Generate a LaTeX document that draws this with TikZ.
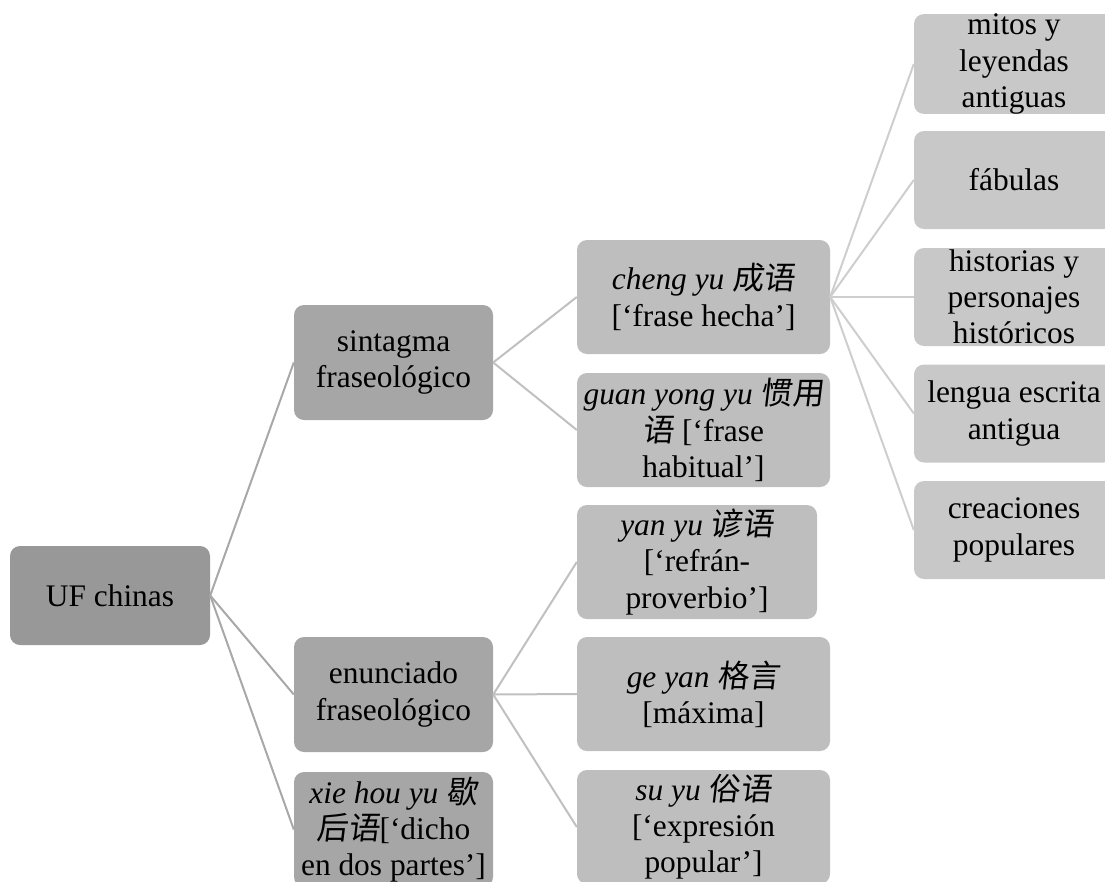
\documentclass[tikz,border=0pt]{standalone}
\usepackage{fontspec}
\setmainfont{Liberation Serif}
\newfontfamily\cjk[FakeSlant=0.12]{Noto Sans CJK SC}
\definecolor{fillroot}{RGB}{152,152,152}
\definecolor{fillone}{RGB}{166,166,166}
\definecolor{filltwo}{RGB}{190,190,190}
\definecolor{fillthree}{RGB}{200,200,200}
\definecolor{linkone}{RGB}{168,168,168}
\definecolor{linktwo}{RGB}{192,192,192}
\definecolor{linkthree}{RGB}{206,206,206}
\tikzset{
  box/.style={rounded corners=10pt, inner sep=0pt, align=center,
    font=\fontsize{31.4}{36.2}\selectfont, text=black},
  rootbox/.style={box, fill=fillroot, minimum width=200pt, minimum height=99pt},
  onebox/.style={box, fill=fillone, minimum width=199pt, minimum height=115pt},
  twobox/.style={box, fill=filltwo, minimum width=253pt, minimum height=114pt},
  threebox/.style={box, fill=fillthree, minimum width=200pt, minimum height=98pt},
  linkA/.style={draw=linkone, line width=2pt},
  linkB/.style={draw=linktwo, line width=2pt},
  linkC/.style={draw=linkthree, line width=2pt},
}
\begin{document}
\begin{tikzpicture}[x=1pt, y=-1pt]
\useasboundingbox (0,0) rectangle (1105,881);
\clip (0,0) rectangle (1105,881);

% root
\node[rootbox] (uf) at (110,595.5) {UF chinas};

% first level
\node[onebox] (sint) at (393.5,362.5) {sintagma\\fraseológico};
\node[onebox] (enun) at (393.5,694.5) {enunciado\\fraseológico};
\node[onebox] (xie)  at (393.5,829.5) {\textit{xie hou yu} {\cjk 歇}\\{\cjk 后语}{[}‘dicho\\en dos partes’{]}};

% second level
\node[twobox] (cheng) at (703.5,297) {\textit{cheng yu} {\cjk 成语}\\{[}‘frase hecha’{]}};
\node[twobox] (guan)  at (703.5,430) {\textit{guan yong yu} {\cjk 惯用}\\{\cjk 语} {[}‘frase\\habitual’{]}};
\node[twobox, minimum width=240pt] (yan) at (697,562) {\textit{yan yu} {\cjk 谚语}\\{[}‘refrán-\\proverbio’{]}};
\node[twobox] (geyan) at (703.5,694) {\textit{ge yan} {\cjk 格言}\\{[}máxima{]}};
\node[twobox] (suyu)  at (703.5,827) {\textit{su yu} {\cjk 俗语}\\{[}‘expresión\\popular’{]}};

% third level
\node[threebox] (mitos) at (1014,64)    {mitos y\\leyendas\\antiguas};
\node[threebox] (fab)   at (1014,180)   {fábulas};
\node[threebox] (hist)  at (1014,297)   {historias y\\personajes\\históricos};
\node[threebox] (leng)  at (1014,413.5) {lengua escrita\\antigua};
\node[threebox] (crea)  at (1014,530)   {creaciones\\populares};

% connectors
\foreach \t in {sint,enun,xie} \draw[linkA] (uf.east) -- (\t.west);
\foreach \t in {cheng,guan} \draw[linkB] (sint.east) -- (\t.west);
\foreach \t in {yan,geyan,suyu} \draw[linkB] (enun.east) -- (\t.west);
\foreach \t in {mitos,fab,hist,leng,crea} \draw[linkC] (cheng.east) -- (\t.west);
\end{tikzpicture}
\end{document}
